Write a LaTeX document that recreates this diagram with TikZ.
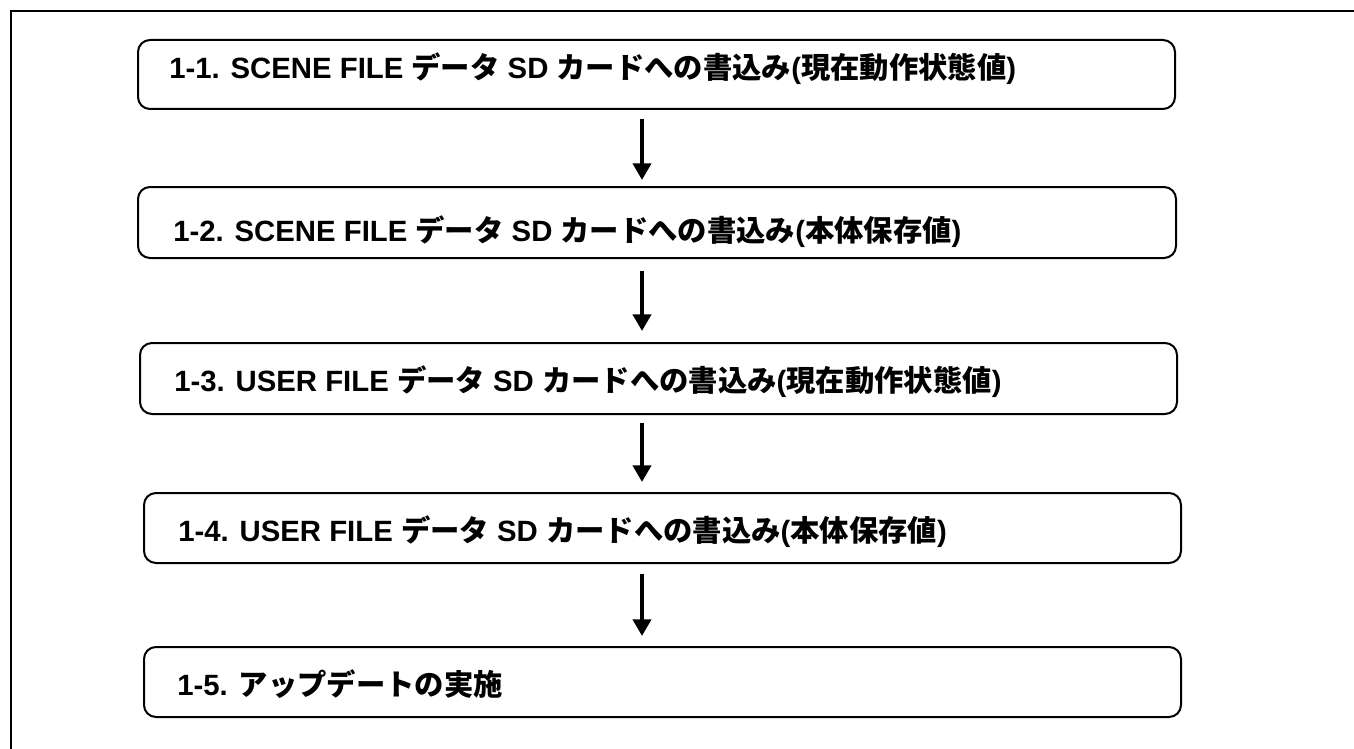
\documentclass[tikz,border=0pt]{standalone}
\usepackage{fontspec}
\setmainfont{Liberation Sans}
\newfontfamily\cjk{Noto Sans CJK JP}
\newcommand{\J}[1]{{\cjk #1}}
\usetikzlibrary{arrows.meta}
\begin{document}
\begin{tikzpicture}[x=0.75pt,y=-0.75pt,
  stepbox/.style={draw,line width=1.5pt,rounded corners=9pt,inner sep=0pt},
  steptext/.style={anchor=base west,inner sep=0pt,font=\fontsize{22}{26}\selectfont\bfseries},
  arr/.style={line width=3pt,-{Triangle[width=13.5pt,length=12.5pt]}},
  frame/.style={line width=1.5pt}]
\useasboundingbox (0,0) rectangle (1354,749);
\draw[frame] (1354,11) -- (11,11) -- (11,749);
% boxes
\node[stepbox,minimum width=777.75pt,minimum height=51.75pt] (b1) at (656.5,74.5) {};
\node[stepbox,minimum width=778.5pt,minimum height=53.25pt] (b2) at (657,222.5) {};
\node[stepbox,minimum width=777.75pt,minimum height=53.25pt] (b3) at (658.5,378.5) {};
\node[stepbox,minimum width=777.75pt,minimum height=52.5pt] (b4) at (662.5,528) {};
\node[stepbox,minimum width=777.75pt,minimum height=52.5pt] (b5) at (662.5,682) {};
% texts
\node[steptext] (t1) at (169,79) {1-1. SCENE FILE \J{データ} SD \J{カードへの書込み}(\J{現在動作状態値})};
\node[steptext] (t2) at (173,241) {1-2. SCENE FILE \J{データ} SD \J{カードへの書込み}(\J{本体保存値})};
\node[steptext] (t3) at (174,391) {1-3. USER FILE \J{データ} SD \J{カードへの書込み}(\J{現在動作状態値})};
\node[steptext] (t4) at (178,541) {1-4. USER FILE \J{データ} SD \J{カードへの書込み}(\J{本体保存値})};
\node[steptext] (t5) at (177,695) {1-5. \J{アップデートの実施}};
% arrows
\coordinate (ax) at (642,0);
\draw[arr,shorten <=6.75pt,shorten >=4.5pt] (ax |- b1.south) -- (ax |- b2.north);
\draw[arr,shorten <=9pt,shorten >=8.25pt] (ax |- b2.south) -- (ax |- b3.north);
\draw[arr,shorten <=6pt,shorten >=7.5pt] (ax |- b3.south) -- (ax |- b4.north);
\draw[arr,shorten <=7.5pt,shorten >=7.5pt] (ax |- b4.south) -- (ax |- b5.north);
\end{tikzpicture}
\end{document}
